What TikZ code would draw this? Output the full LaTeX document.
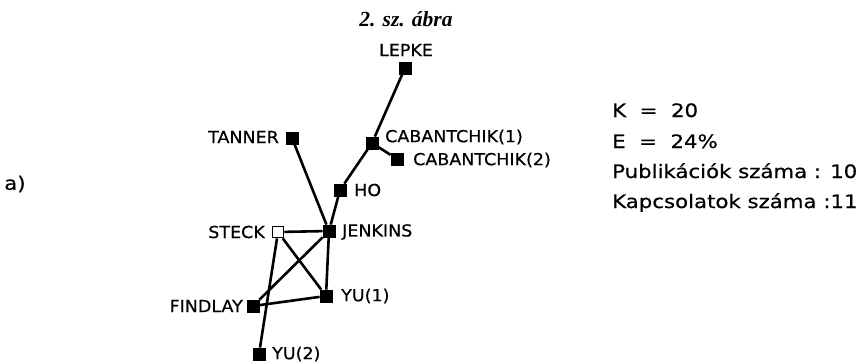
\documentclass[tikz,border=0pt]{standalone}
\usepackage{fontspec}
\newfontfamily\lettfont[FakeStretch=1.06,FakeBold=0.6]{DejaVu Sans}
\newfontfamily\infofont[FakeStretch=1.15,FakeBold=0.6]{DejaVu Sans}
\newfontfamily\titlefont{Liberation Serif}
\begin{document}
\begin{tikzpicture}[x=1pt,y=-1pt,
  author/.style={rectangle,fill=black,draw=black,line width=0.8pt,minimum size=12pt,inner sep=0pt},
  openauthor/.style={rectangle,fill=white,draw=black,line width=1.8pt,minimum size=11pt,inner sep=0pt},
  lab/.style={font=\lettfont\fontsize{16.5}{19}\selectfont,inner sep=0pt},
  info/.style={font=\infofont\fontsize{18.5}{22}\selectfont,inner sep=0pt,anchor=base west},
  link/.style={line width=2.6pt}]
\useasboundingbox (0,0) rectangle (868,364);
% title
\node[font=\titlefont\bfseries\itshape\fontsize{21.5}{24}\selectfont,inner sep=0pt] (title) at (406,19) {2. sz. ábra};
% nodes
\node[author] (lepke) at (405,68) {};
\node[author] (tanner) at (292,138) {};
\node[author] (cab1) at (372,143) {};
\node[author] (cab2) at (397,159) {};
\node[author] (ho) at (340,190) {};
\node[author] (jenkins) at (329,231) {};
\node[openauthor] (steck) at (278,232) {};
\node[author] (yu1) at (326,296) {};
\node[author] (findlay) at (253,306) {};
\node[author] (yu2) at (259,354) {};
% labels
\node[lab,anchor=center] (llepke) at (406,50) {LEPKE};
\node[lab,anchor=east] (ltanner) at (279,137) {TANNER};
\node[lab,anchor=west] (lcab1) at (385,137) {CABANTCHIK(1)};
\node[lab,anchor=west] (lcab2) at (413,160) {CABANTCHIK(2)};
\node[lab,anchor=west] (lho) at (354,190) {HO};
\node[lab,anchor=west] (ljenkins) at (342,232) {JENKINS};
\node[lab,anchor=east] (lsteck) at (265,232) {STECK};
\node[lab,anchor=west] (lyu1) at (341,296) {YU(1)};
\node[lab,anchor=east] (lfindlay) at (243,306) {FINDLAY};
\node[lab,anchor=west] (lyu2) at (272,354) {YU(2)};
% edges
\draw[link] (lepke) -- (cab1);
\draw[link] (cab1) -- (cab2);
\draw[link] (cab1) -- (ho);
\draw[link] (ho) -- (jenkins);
\draw[link] (tanner) -- (jenkins);
\draw[link] (steck) -- (jenkins);
\draw[link] (steck) -- (yu1);
\draw[link] (steck) -- (yu2);
\draw[link] (jenkins) -- (findlay);
\draw[link] (jenkins) -- (yu1);
\draw[link] (findlay) -- (yu1);
% side texts
\node[info,anchor=center] (parta) at (15,184) {a)};
\node[info] (k) at (612,117) {K \ = \ 20};
\node[info] (e) at (612,148) {E \ = \ 24\%};
\node[info] (pub) at (612,178) {Publikációk száma : 10};
\node[info] (kap) at (612,208) {Kapcsolatok száma :11};
\end{tikzpicture}
\end{document}
